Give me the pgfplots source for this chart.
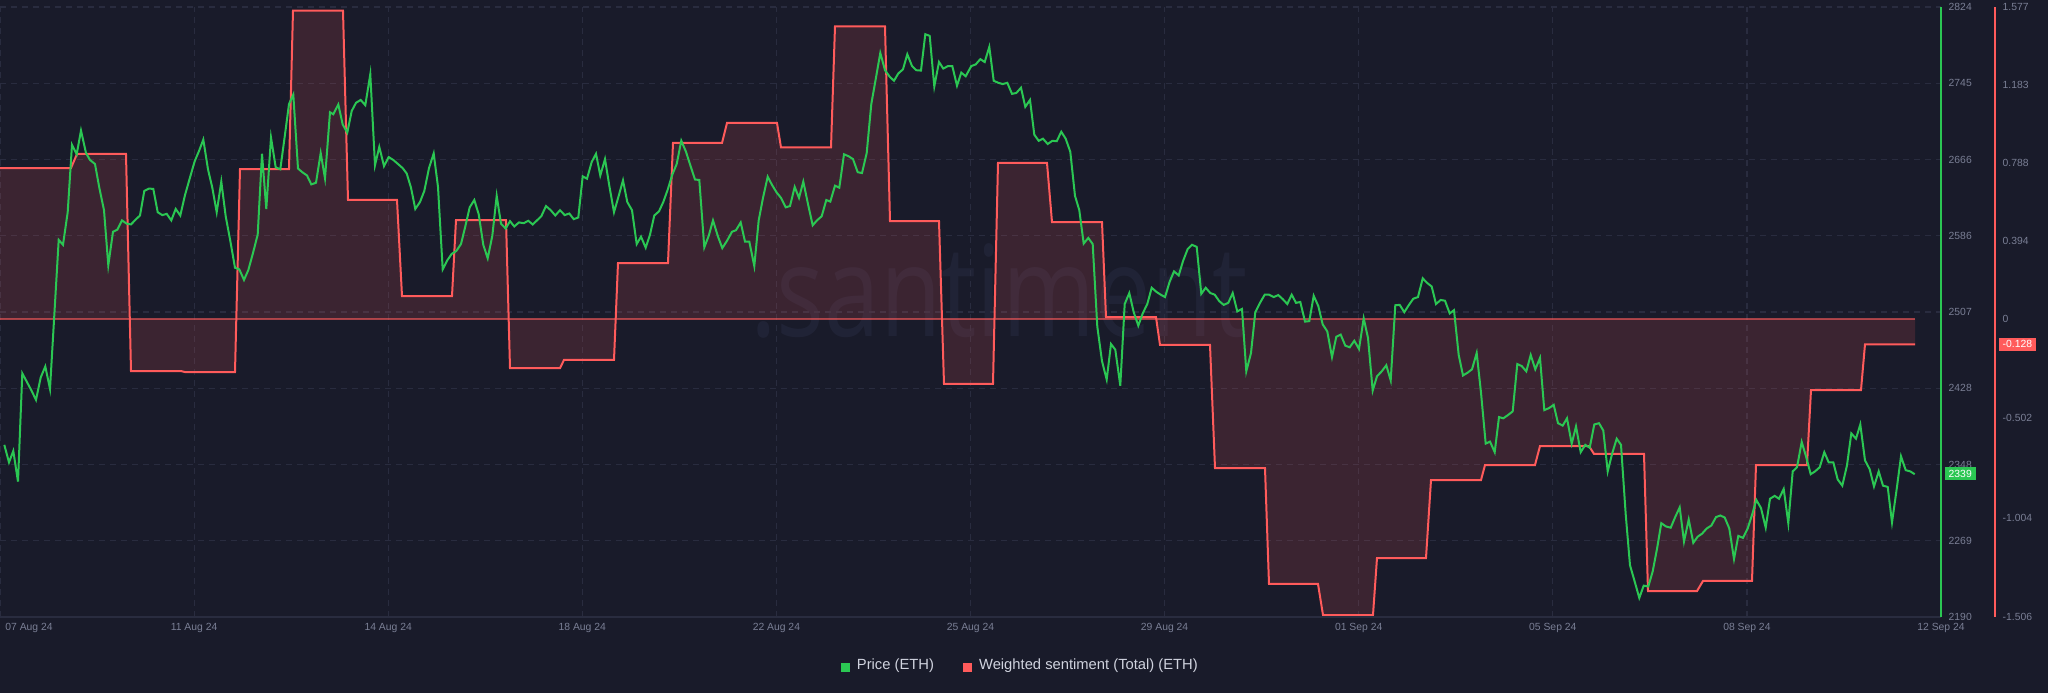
\documentclass[border=0pt]{standalone}
\usepackage{pgfplots}
\usepackage{pgfplotstable}
\pgfplotsset{compat=1.18}
\usepackage{fontspec}
\setmainfont{Liberation Sans}
\newfontfamily\wmfont{Open Sans}
\definecolor{bg}{HTML}{191B2A}
\definecolor{ethgreen}{HTML}{2BC753}
\definecolor{sentred}{HTML}{FF5B5B}
\definecolor{gridc}{HTML}{292C3F}
\definecolor{tickc}{HTML}{7A7F95}
\definecolor{legc}{HTML}{D0D3DE}
\definecolor{wmc}{HTML}{8899DD}
\newcommand\tickfont{\fontsize{2.95pt}{3.5pt}\selectfont}
\newcommand\legfont{\fontsize{4.2pt}{5pt}\selectfont}

\pgfplotstableread{
x s
0 0.763
71 0.763
77 0.834
126 0.834
131 -0.263
181 -0.263
185 -0.268
235 -0.268
240 0.758
289 0.758
293 1.558
343 1.558
348 0.602
397 0.602
402 0.116
452 0.116
456 0.500
506 0.500
510 -0.248
560 -0.248
564 -0.207
614 -0.207
618 0.283
668 0.283
673 0.890
722 0.890
727 0.991
777 0.991
781 0.867
831 0.867
835 1.479
885 1.479
890 0.495
939 0.495
944 -0.328
993 -0.328
998 0.789
1047 0.789
1052 0.490
1102 0.490
1106 0.010
1156 0.010
1160 -0.131
1210 -0.131
1215 -0.753
1265 -0.753
1269 -1.339
1318 -1.339
1323 -1.496
1373 -1.496
1377 -1.208
1426 -1.208
1431 -0.814
1481 -0.814
1485 -0.738
1535 -0.738
1540 -0.642
1589 -0.642
1594 -0.682
1644 -0.682
1648 -1.375
1697 -1.375
1703 -1.324
1752 -1.324
1756 -0.738
1807 -0.738
1811 -0.359
1861 -0.359
1865 -0.128
1915 -0.128
}\sentdata

\pgfplotstableread{
x p
4.3 2368.9
9 2350.7
13.3 2362.6
18 2330.7
22.3 2443.2
26.7 2434.7
31.7 2424.9
36 2415.6
40.7 2438.9
45.3 2450.4
50 2427.0
58.7 2581.9
63 2576.8
67.7 2610.7
72 2680.7
76.7 2671.0
81 2695.6
86 2672.2
90 2665.0
95 2660.8
99.3 2636.2
104 2612.8
108.3 2555.6
113 2590.4
117.3 2592.5
122 2602.2
126.7 2598.8
131 2598.0
135.7 2603.1
140 2607.3
144.3 2632.8
149 2635.3
153.3 2634.9
157.7 2610.7
162.3 2607.7
166.7 2609.0
171.3 2602.2
175.7 2614.1
180.3 2607.3
185 2628.5
190 2646.8
194.7 2663.7
199 2674.3
203.3 2686.2
208 2655.3
212.3 2636.2
216.7 2610.7
221.3 2642.5
225.7 2606.5
230.3 2581.0
235 2553.0
239.3 2551.3
244 2540.3
248.3 2550.5
253 2568.3
257.7 2587.4
262 2671.4
266.3 2614.1
271 2688.3
275.7 2657.4
280.3 2655.3
284.7 2689.2
289 2723.1
293.3 2732.9
298 2656.1
302.3 2652.3
307 2648.9
311.3 2639.6
316 2641.3
320.7 2672.2
325 2645.9
330 2714.6
333.3 2712.5
338.3 2722.7
342.7 2701.9
347.3 2693.4
351.7 2715.9
356 2724.4
360.7 2727.4
365.3 2721.9
370.3 2754.1
375 2659.5
379.3 2678.6
384 2658.6
388.7 2668.0
393.3 2665.0
398 2660.8
402.7 2656.5
406.7 2651.0
411 2636.2
415.3 2614.1
420 2621.3
424.3 2632.8
429 2656.5
433.7 2671.8
438 2637.0
442.7 2551.3
447.3 2560.7
451.7 2567.4
456.3 2570.4
461 2577.6
465.3 2595.9
469.7 2615.8
474.3 2623.4
478.7 2608.6
483.3 2576.8
487.7 2562.8
492.3 2586.1
496.7 2627.7
501 2598.8
505.7 2593.7
510 2601.4
514.3 2595.9
519 2600.1
523.7 2599.3
528.3 2601.8
532.7 2598.0
537 2602.2
541.3 2606.5
546 2617.1
550.7 2612.8
555.3 2607.3
560 2612.8
564.7 2607.7
569.3 2609.4
573.7 2603.5
578.3 2605.2
582.7 2648.0
587 2645.5
591.7 2662.9
596 2671.4
600.3 2648.9
605 2665.9
609.3 2638.3
614 2610.7
618.7 2627.7
623 2643.8
627.3 2621.3
632 2612.8
636.7 2577.6
641 2585.3
645.7 2573.8
650 2587.4
654.3 2607.3
659 2611.6
663.3 2621.3
667.7 2634.1
672.3 2649.7
676.7 2660.8
681.3 2685.0
686 2673.5
690.3 2659.5
695 2644.7
699.3 2644.2
704.3 2574.2
708.7 2586.1
713 2602.2
718 2585.3
722.3 2573.4
727 2581.0
732 2590.4
736 2592.0
740.7 2600.1
745 2580.2
749.3 2580.2
754.3 2554.7
758.7 2602.2
763 2625.6
767.7 2647.6
772 2639.1
776.7 2631.1
781 2625.6
785.7 2615.8
790 2617.1
794.7 2637.0
799 2625.6
803.3 2642.5
808 2619.2
812.7 2597.1
817 2602.2
821.7 2606.5
826.3 2623.4
830.3 2621.7
835 2638.3
839.3 2636.2
844 2670.9
848.7 2668.8
853 2665.9
857.7 2652.3
862 2651.4
866.7 2672.2
871.3 2723.1
876 2750.7
880.3 2776.2
885 2758.3
889.7 2751.5
894 2747.3
898.3 2754.9
903 2759.2
907.3 2774.9
912 2762.6
916.3 2758.3
921 2757.9
925.3 2795.7
929.7 2794.0
934.3 2741.4
939 2766.8
943.3 2760.0
948 2762.6
952.3 2762.6
957 2742.2
961.3 2755.8
965.7 2752.0
971.3 2762.6
975.7 2764.3
980.3 2769.8
984.7 2766.8
989.3 2782.5
993.7 2747.3
998.3 2745.2
1002.7 2743.9
1007.3 2745.2
1012 2733.7
1016.3 2734.6
1021 2740.1
1025.3 2720.2
1030 2727.4
1034.3 2691.3
1038.7 2684.9
1043 2687.1
1047.7 2681.6
1052.3 2684.9
1056.7 2684.5
1061.3 2694.3
1065.7 2687.1
1070.3 2673.5
1075 2627.7
1079.3 2612.8
1083.7 2578.1
1088.3 2584.0
1092.7 2577.6
1097.3 2491.9
1102 2455.9
1106.7 2436.8
1111 2473.7
1115.3 2467.8
1120.3 2430.4
1124.7 2515.3
1129.3 2526.7
1133.7 2506.8
1138.3 2492.8
1142.7 2505.5
1147.3 2515.3
1151.7 2532.2
1156.3 2528.0
1160.7 2525.0
1165 2522.5
1169.7 2538.6
1174 2549.2
1178.7 2545.0
1183 2559.8
1187.7 2572.5
1192 2576.8
1196.7 2574.7
1201.3 2525.9
1205.7 2532.2
1210.3 2526.7
1214.7 2525.0
1219.3 2518.2
1223.7 2514.4
1228.3 2516.5
1232.7 2526.7
1237.3 2507.6
1242 2510.2
1246.3 2445.3
1251 2464.4
1255.3 2506.8
1260 2516.5
1264.7 2525.0
1269 2525.0
1273.7 2522.5
1278.3 2524.6
1282.7 2520.4
1287.3 2515.3
1291.7 2525.0
1296 2516.5
1300.3 2517.4
1305 2497.0
1309.3 2497.5
1313.7 2523.8
1318.3 2513.2
1322.7 2494.1
1327.3 2486.8
1332 2460.1
1336.3 2481.3
1340.7 2483.5
1345.3 2472.0
1349.7 2470.3
1354.3 2477.1
1359 2468.6
1363.7 2500.4
1368 2480.1
1372.7 2425.3
1377 2440.2
1381.7 2445.3
1386.3 2451.6
1390.7 2435.9
1395.3 2514.0
1399.7 2514.4
1404.3 2506.8
1408.7 2514.0
1413.3 2520.8
1418 2522.5
1422.7 2542.0
1427 2537.3
1431.7 2533.5
1436 2515.3
1440.7 2519.5
1445 2518.7
1449.7 2505.5
1454 2508.9
1458.7 2462.3
1463 2441.0
1467.7 2444.0
1472 2447.4
1476.7 2464.4
1481 2423.2
1485.7 2370.2
1490 2372.3
1494.7 2361.3
1499 2397.8
1503.3 2396.5
1508 2399.9
1512.7 2403.7
1517.3 2452.9
1521.7 2450.8
1526.3 2445.3
1530.7 2462.3
1535.3 2447.4
1540 2459.3
1544.3 2405.0
1549 2407.1
1553.7 2410.5
1558 2391.4
1562.7 2388.9
1567 2396.5
1571.7 2370.2
1576 2388.0
1580.7 2361.3
1585.3 2368.9
1589.7 2365.9
1594.3 2390.1
1599 2391.4
1603.3 2383.8
1607.7 2341.3
1612.3 2360.4
1616.7 2375.3
1621 2368.9
1625.7 2296.8
1630 2243.8
1634.7 2226.8
1639.3 2209.8
1643.7 2222.6
1648.3 2221.7
1652.7 2237.4
1657 2260.8
1661.3 2287.5
1666 2284.1
1670.7 2282.8
1675 2293.4
1679.7 2304.0
1684 2268.4
1688.7 2291.3
1693.3 2267.1
1697.7 2273.5
1702 2276.5
1706.7 2282.0
1711.3 2285.0
1716 2293.8
1720.3 2295.5
1724.7 2293.4
1729.3 2282.0
1734 2250.2
1738.3 2274.3
1743 2272.2
1747.7 2282.0
1752 2296.0
1756.3 2311.7
1761 2303.2
1765.7 2282.8
1770 2312.9
1774.7 2315.9
1779 2312.9
1783.7 2323.1
1788.3 2287.5
1792.7 2341.3
1797 2345.6
1801.7 2371.9
1806 2357.0
1810.7 2338.4
1815 2341.3
1819.7 2345.6
1824.3 2361.3
1828.7 2350.7
1833.3 2350.7
1837.7 2332.9
1842.3 2326.5
1847 2347.7
1851.3 2380.8
1856 2375.3
1860.3 2390.1
1865 2352.8
1869.7 2343.5
1874 2325.7
1878.7 2341.3
1883 2326.5
1887.7 2325.2
1892 2288.3
1896.7 2323.1
1901 2357.0
1905.7 2342.6
1910.3 2341.3
1914.7 2338.4
}\pricedata

\begin{document}
\begin{tikzpicture}
\fill[bg] (0,0) rectangle (204.8mm,69.3mm);
\node[text=wmc, text opacity=0.07, font=\wmfont\fontsize{36pt}{40pt}\selectfont, anchor=base, inner sep=0pt, xscale=0.79, transform shape] at (99.9mm,35.6mm) {.santiment};

% grid-only axis
\begin{axis}[at={(0mm,7.6mm)}, anchor=south west, scale only axis,
  width=194.1mm, height=61mm,
  xmin=0, xmax=1941, ymin=2190, ymax=2824,
  xtick={0,194.1,388.2,582.3,776.4,970.5,1164.6,1358.7,1552.8,1746.9,1941},
  ytick={2190,2269.25,2348.5,2427.75,2507,2586.25,2665.5,2744.75,2824},
  xticklabels={}, yticklabels={},
  major tick length=0, axis line style={draw=none},
  grid=major, grid style={gridc, line width=0.12mm, dash pattern=on 0.6mm off 0.5mm}]
\end{axis}

% sentiment axis
\begin{axis}[at={(0mm,7.6mm)}, anchor=south west, scale only axis,
  width=199.5mm, height=61mm,
  xmin=0, xmax=1995, ymin=-1.506, ymax=1.577, clip=false,
  hide x axis, axis y line*=right,
  y axis line style={sentred, line width=0.15mm},
  ytick={-1.506,-1.004,-0.502,0,0.394,0.788,1.183,1.577},
  yticklabels={-1.506,-1.004,-0.502,0,0.394,0.788,1.183,1.577},
  major tick length=0,
  yticklabel style={font=\tickfont, text=tickc, anchor=west, inner sep=0pt, xshift=0.7mm}]
\addplot[draw=none, fill=sentred, fill opacity=0.15, forget plot] table[x=x,y=s]{\sentdata} \closedcycle;
\addplot[sentred, line width=0.2mm, forget plot] table[x=x,y=s]{\sentdata};
\addplot[sentred, opacity=0.6, line width=0.15mm, forget plot] coordinates {(0,0) (1915,0)};
\node[fill=sentred, text=white, font=\tickfont, inner xsep=0.4mm, inner ysep=0.28mm, anchor=west, xshift=0.3mm] at (axis cs:1995,-0.128) {-0.128};
\end{axis}

% price axis
\begin{axis}[at={(0mm,7.6mm)}, anchor=south west, scale only axis,
  width=194.1mm, height=61mm,
  xmin=0, xmax=1941, ymin=2190, ymax=2824, clip=false,
  axis x line*=bottom, axis y line*=right,
  x axis line style={gridc, line width=0.12mm},
  y axis line style={ethgreen, line width=0.15mm},
  xtick={0,194.1,388.2,582.3,776.4,970.5,1164.6,1358.7,1552.8,1746.9,1941},
  xticklabels={\hspace*{5.8mm}07 Aug 24, 11 Aug 24, 14 Aug 24, 18 Aug 24, 22 Aug 24, 25 Aug 24, 29 Aug 24, 01 Sep 24, 05 Sep 24, 08 Sep 24, 12 Sep 24},
  ytick={2190,2269.25,2348.5,2427.75,2507,2586.25,2665.5,2744.75,2824},
  yticklabels={2190,2269,2348,2428,2507,2586,2666,2745,2824},
  major tick length=0,
  xticklabel style={font=\tickfont, text=tickc, anchor=north, inner sep=0pt, yshift=-0.6mm},
  yticklabel style={font=\tickfont, text=tickc, anchor=west, inner sep=0pt, xshift=0.7mm},
  legend style={at={(0.527,-0.082)}, anchor=center, draw=none, fill=none, text=legc, font=\legfont, legend columns=2, /tikz/every even column/.append style={column sep=2.2mm}},
  legend image code/.code={\fill[#1] (0mm,-0.45mm) rectangle (0.9mm,0.45mm);}]
\addplot[ethgreen, line width=0.2mm, forget plot] table[x=x,y=p]{\pricedata};
\node[fill=ethgreen, text=white, font=\tickfont, inner xsep=0.4mm, inner ysep=0.28mm, anchor=west, xshift=0.3mm] at (axis cs:1941,2339) {2339};
\addlegendimage{fill=ethgreen, draw=none}
\addlegendentry{Price (ETH)}
\addlegendimage{fill=sentred, draw=none}
\addlegendentry{Weighted sentiment (Total) (ETH)}
\end{axis}
\pgfresetboundingbox
\path[use as bounding box] (0,0) rectangle (204.8mm,69.3mm);
\end{tikzpicture}
\end{document}
